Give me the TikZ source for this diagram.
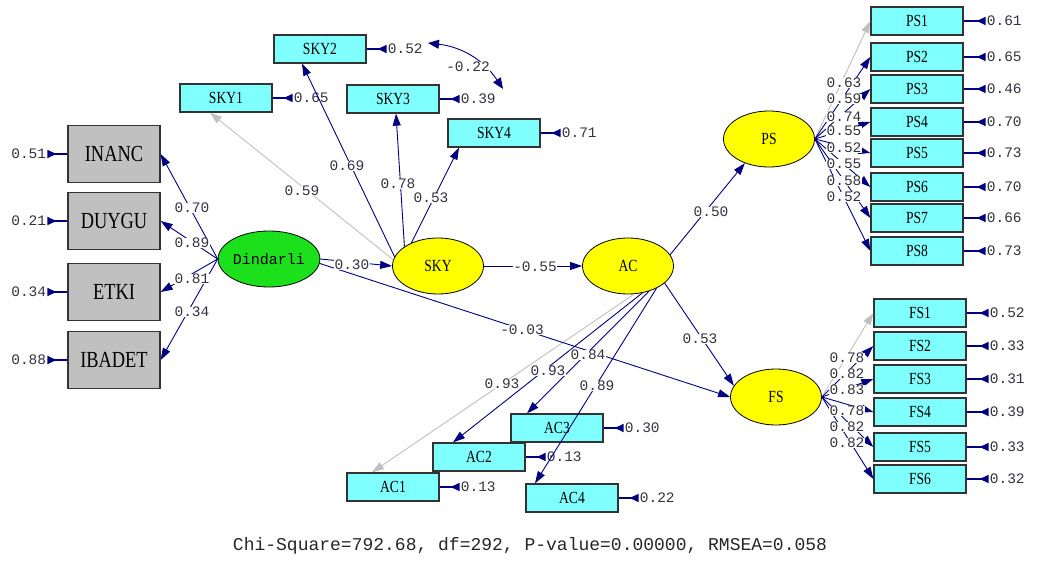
\documentclass[tikz,border=0pt]{standalone}
\usepackage{fontspec}
\setmainfont{Liberation Serif}
\newfontfamily\valfont{Liberation Mono}
\newfontfamily\boxfont[FakeStretch=0.8]{Liberation Serif}
\usepackage{tikz}
\usetikzlibrary{arrows.meta,positioning,shapes.geometric}
\definecolor{lnavy}{HTML}{000080}
\definecolor{lcyan}{HTML}{80FFFF}
\definecolor{lgrey}{HTML}{C0C0C0}
\definecolor{lgreen}{HTML}{1CE01C}
\definecolor{lyellow}{HTML}{FFFF00}
\definecolor{ltext}{HTML}{333340}

\begin{document}
\begin{tikzpicture}[x=1pt,y=-1pt,
ind/.style={draw=black!80,fill=lcyan,line width=1.3pt,minimum width=92pt,minimum height=28pt,inner sep=0pt,font=\boxfont\fontsize{17}{17}\selectfont},
xind/.style={draw=black!80,fill=lgrey,line width=1.3pt,minimum width=92pt,minimum height=57pt,inner sep=0pt,font=\boxfont\fontsize{23}{23}\selectfont},
lat/.style={ellipse,draw=black,fill=lyellow,line width=0.8pt,minimum width=91pt,minimum height=56pt,inner sep=0pt,font=\boxfont\fontsize{17}{17}\selectfont},
val/.style={font=\valfont\fontsize{14.5}{14.5}\selectfont,text=ltext,inner sep=1pt},
coef/.style={val,fill=white,inner sep=0.5pt},
pth/.style={draw=lnavy,line width=0.9pt,-{Triangle[length=12pt,width=8pt]}},
gpth/.style={pth,draw=lgrey},
errarr/.style={draw=lnavy,line width=1.4pt,{Triangle[reversed,length=9pt,width=8pt]}-},
corr/.style={draw=lnavy,line width=0.9pt,{Triangle[length=11pt,width=9pt]}-{Triangle[length=11pt,width=9pt]}}]
\fill[white] (0,0) rectangle (1037,561);
\useasboundingbox (0,0) rectangle (1037,561);

\node[lat,fill=lgreen,font=\valfont\fontsize{15}{15}\selectfont] (Din) at (269,259) {Dindarli};
\node[lat] (SKY) at (438,266) {SKY};
\node[lat] (AC) at (628,266) {AC};
\node[lat] (PS) at (769,139) {PS};
\node[lat] (FS) at (776,397) {FS};

\foreach \v/\y/\e in {INANC/154/0.51,DUYGU/221/0.21,ETKI/292/0.34,IBADET/360/0.88}{
\node[xind] (\v) at (114,\y) {\v};
\node[val,left=20pt of \v] (e\v) {\e};
\draw[errarr] (e\v) -- (\v);
}

\node[ind] (SKY1) at (226,98) {SKY1};
\node[ind] (SKY2) at (320,49) {SKY2};
\node[ind] (SKY3) at (393,99) {SKY3};
\node[ind] (SKY4) at (494,133) {SKY4};
\foreach \v/\e in {SKY1/0.65,SKY2/0.52,SKY3/0.39,SKY4/0.71}{
\node[val,right=20pt of \v] (e\v) {\e};
\draw[errarr] (e\v) -- (\v);
}

\node[ind] (AC1) at (393,487) {AC1};
\node[ind] (AC2) at (479,457) {AC2};
\node[ind] (AC3) at (557,428) {AC3};
\node[ind] (AC4) at (572,498) {AC4};
\foreach \v/\e in {AC1/0.13,AC2/0.13,AC3/0.30,AC4/0.22}{
\node[val,right=20pt of \v] (e\v) {\e};
\draw[errarr] (e\v) -- (\v);
}

\foreach \n/\y/\e/\c in {1/21/0.61/lgrey,2/57/0.65/lnavy,3/89/0.46/lnavy,4/122/0.70/lnavy,5/153/0.73/lnavy,6/187/0.70/lnavy,7/218/0.66/lnavy,8/251/0.73/lnavy}{
\node[ind] (PS\n) at (917,\y) {PS\n};
\node[val,right=22pt of PS\n] (ePS\n) {\e};
\draw[errarr] (ePS\n) -- (PS\n);
\draw[pth,draw=\c] (PS.east) -- (PS\n.west);
}

\foreach \n/\y/\e/\c in {1/313/0.52/lgrey,2/346/0.33/lnavy,3/379/0.31/lnavy,4/412/0.39/lnavy,5/447/0.33/lnavy,6/479/0.32/lnavy}{
\node[ind] (FS\n) at (920,\y) {FS\n};
\node[val,right=22pt of FS\n] (eFS\n) {\e};
\draw[errarr] (eFS\n) -- (FS\n);
\draw[pth,draw=\c] (FS.east) -- (FS\n.west);
}

\draw[pth] (Din.west) -- (INANC.east);
\draw[pth] (Din.west) -- (DUYGU.east);
\draw[pth] (Din.west) -- (ETKI.east);
\draw[pth] (Din.west) -- (IBADET.east);

\draw[gpth] (SKY.172) -- ([xshift=-16pt]SKY1.south);
\draw[pth] (SKY.168) -- ([xshift=-18pt]SKY2.south);
\draw[pth] (SKY.150) -- ([xshift=3pt]SKY3.south);
\draw[pth] (SKY.139) -- ([xshift=-35pt]SKY4.south);

\draw[gpth] (AC.-78) -- ([xshift=-21pt]AC1.north);
\draw[pth] (AC.-62) -- ([xshift=-26pt]AC2.north);
\draw[pth] (AC.-50) -- ([xshift=-30pt]AC3.north);
\draw[pth] (AC.-38) -- ([xshift=-37pt]AC4.north);

\draw[pth] (Din.east) -- (SKY.west);
\draw[pth] (SKY.east) -- (AC.west);
\draw[pth] (Din.-5) -- (FS.west);
\draw[pth] (AC.15) -- (PS.225);
\draw[pth] (AC.-25) -- (FS.165);

\coordinate (c1) at (428,43);
\coordinate (c2) at (503,89);
\draw[corr] (c1) to[bend left=25] (c2);
\node[coef] (l22) at (468,67) {-0.22};

\node[coef] (lINANC) at (192,208) {0.70};
\node[coef] (lDUYGU) at (192,243) {0.89};
\node[coef] (lETKI) at (192,279) {0.81};
\node[coef] (lIBADET) at (192,312) {0.34};
\node[coef] (lSKY1) at (302,191) {0.59};
\node[coef] (lSKY2) at (347,166) {0.69};
\node[coef] (lSKY3) at (398,184) {0.78};
\node[coef] (lSKY4) at (431,198) {0.53};
\node[coef] (lDS) at (352,265) {0.30};
\node[coef] (lSA) at (535,267) {-0.55};
\node[coef] (lAP) at (711,212) {0.50};
\node[coef] (lAF) at (700,339) {0.53};
\node[coef] (lDF) at (522,330) {-0.03};
\node[coef] (lAC1) at (502,384) {0.93};
\node[coef] (lAC2) at (548,371) {0.93};
\node[coef] (lAC3) at (588,355) {0.84};
\node[coef] (lAC4) at (597,386) {0.89};

\foreach \n/\l/\y in {1/0.63/83,2/0.59/99,3/0.74/117,4/0.55/131,5/0.52/148,6/0.55/164,7/0.58/181,8/0.52/197}{
\node[coef] (lPS\n) at (844,\y) {\l};
}
\foreach \n/\l/\y in {1/0.78/358,2/0.82/374,3/0.83/390,4/0.78/411,5/0.82/427,6/0.82/443}{
\node[coef] (lFS\n) at (847,\y) {\l};
}

\node[font=\valfont\fontsize{18}{18}\selectfont,text=black!85] (fit) at (530,546) {Chi-Square=792.68, df=292, P-value=0.00000, RMSEA=0.058};
\end{tikzpicture}
\end{document}
